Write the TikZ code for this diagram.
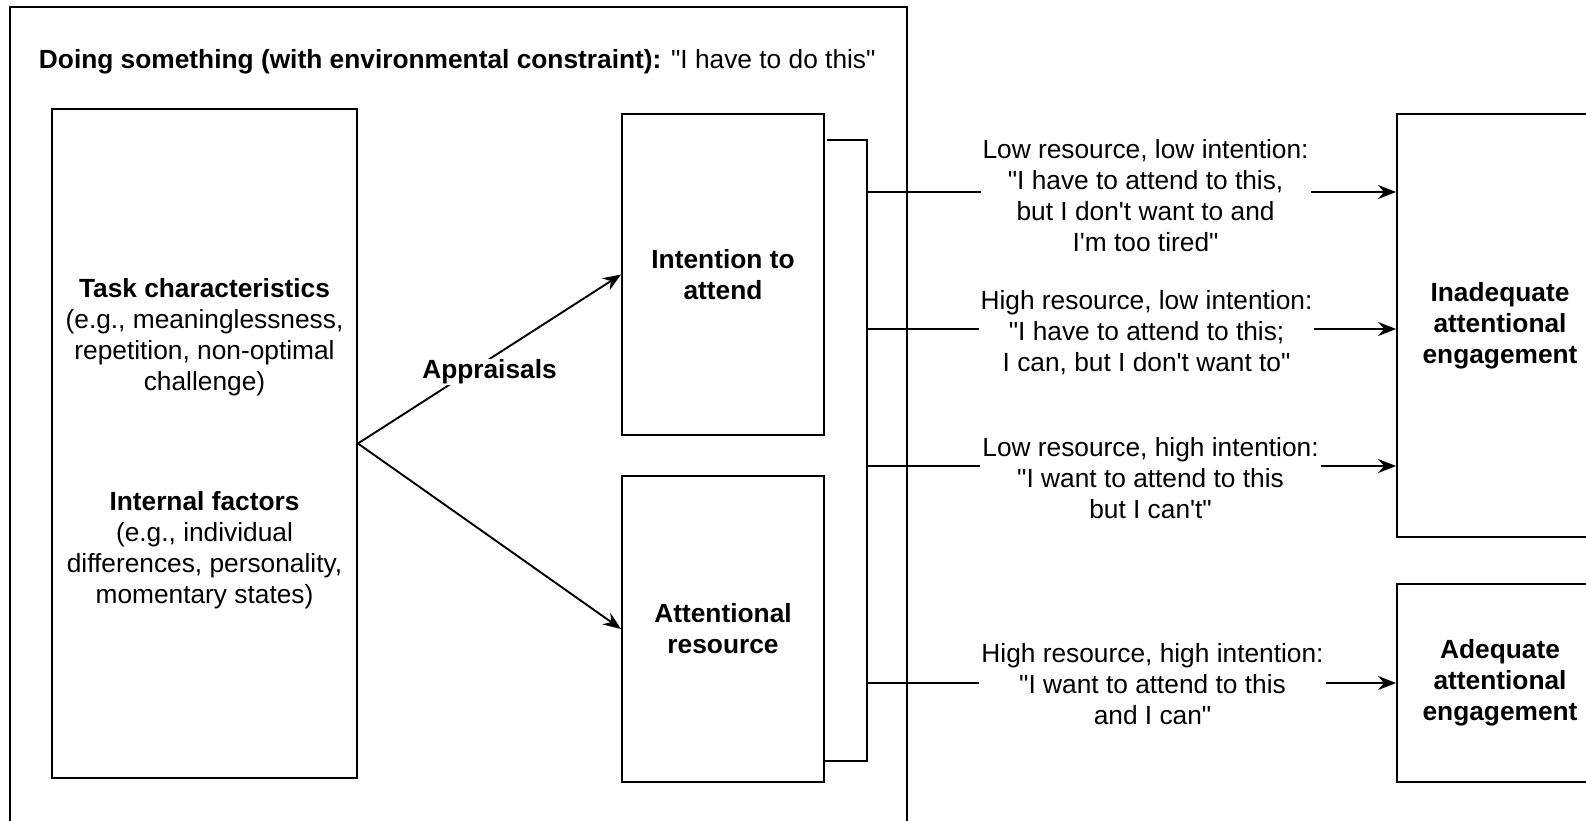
\documentclass[tikz,border=0pt]{standalone}
\usepackage{fontspec}
\setmainfont{Liberation Sans}
\usetikzlibrary{arrows.meta,positioning}

\newcommand{\bodyfont}{\fontsize{26.3}{31}\selectfont}
\newcommand{\ap}{\textquotesingle}
\newcommand{\qd}{\textquotedbl}

\begin{document}
\begin{tikzpicture}[x=1pt,y=-1pt,>={Stealth[length=18pt,width=14pt,inset=6pt]},line width=1.9pt]
  \tikzset{
    block/.style={draw,align=center,inner sep=0pt,font=\bodyfont},
    cond/.style={fill=white,align=center,inner sep=2pt,font=\bodyfont},
    link/.style={->}
  }
  \fill[white] (0,0) rectangle (1586,820);
  \clip (0,0) rectangle (1586,820);

  % outer frame and its heading
  \draw (10,7) rectangle (907,840);
  \node[anchor=west,inner sep=0pt,font=\bodyfont] (title) at (38,62)
    {\textbf{Doing something (with environmental constraint):} \qd I have to do this\qd};

  % left block with the antecedents
  \node[block,minimum width=305pt,minimum height=669pt] (lft) at (204.5,443.5)
    {\textbf{Task characteristics}\\(e.g., meaninglessness,\\repetition, non-optimal\\challenge)\\[89pt]
     \textbf{Internal factors}\\(e.g., individual\\differences, personality,\\momentary states)};

  % intention and resource
  \node[block,minimum width=202pt,minimum height=321pt] (int) at (723,274.5)
    {\textbf{Intention to}\\\textbf{attend}};
  \node[block,minimum width=202pt,minimum height=306pt] (res) at (723,629)
    {\textbf{Attentional}\\\textbf{resource}};

  \draw[link] (lft.east) -- (int.west)
    node[cond,midway,yshift=-13pt,inner sep=1pt] (appr) {\textbf{Appraisals}};
  \draw[link] (lft.east) -- (res.west);

  % outcomes
  \node[block,minimum width=206pt,minimum height=423pt] (inad) at (1500,325.5)
    {\textbf{Inadequate}\\\textbf{attentional}\\\textbf{engagement}};
  \node[block,minimum width=206pt,minimum height=198pt] (adeq) at (1500,683)
    {\textbf{Adequate}\\\textbf{attentional}\\\textbf{engagement}};

  % bracket joining both states
  \coordinate (bt) at (867,140);
  \coordinate (bb) at (867,761);
  \draw (827,140) -- (bt) -- (bb) -- (824,761) -- (824,705);
  \coordinate (b1) at (867,192);
  \coordinate (b2) at (867,329);
  \coordinate (b3) at (867,466);
  \coordinate (b4) at (867,683);

  \draw[link] (b1) -- (b1 -| inad.west)
    node[cond,midway,xshift=14pt,yshift=-4pt] (c1) {Low resource, low intention:\\\qd I have to attend to this,\\but I don\ap t want to and\\I\ap m too tired\qd};
  \draw[link] (b2) -- (b2 -| inad.west)
    node[cond,midway,xshift=15pt,yshift=-4pt] (c2) {High resource, low intention:\\\qd I have to attend to this;\\I can, but I don\ap t want to\qd};
  \draw[link] (b3) -- (b3 -| inad.west)
    node[cond,midway,xshift=19pt,yshift=-12pt] (c3) {Low resource, high intention:\\\qd I want to attend to this\\but I can\ap t\qd};
  \draw[link] (b4) -- (b4 -| adeq.west)
    node[cond,midway,xshift=21pt,yshift=-1pt] (c4) {High resource, high intention:\\\qd I want to attend to this\\and I can\qd};
\end{tikzpicture}
\end{document}
